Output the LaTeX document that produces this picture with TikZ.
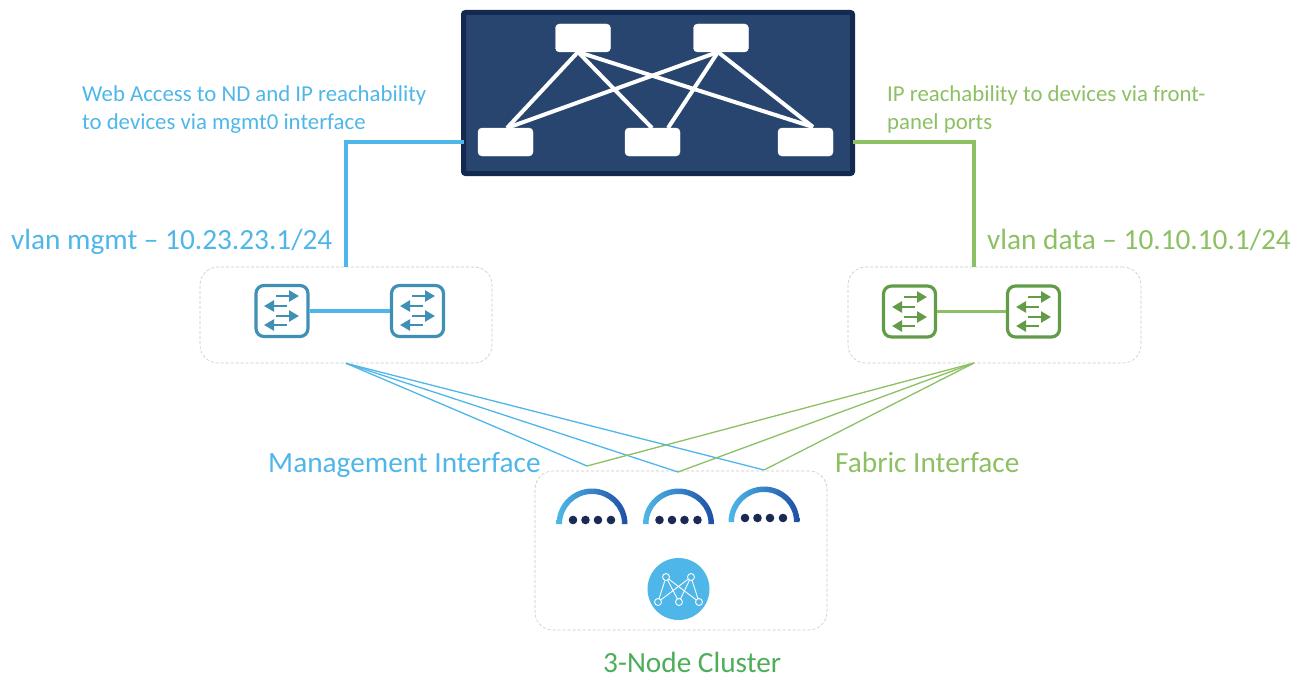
\documentclass[tikz,border=0pt]{standalone}
\usepackage{fontspec}
\setmainfont{Carlito}
\usetikzlibrary{arrows.meta,shapes.geometric}
\definecolor{mgmtblue}{HTML}{4FB6E9}
\definecolor{datagreen}{HTML}{8CC063}
\definecolor{swblue}{HTML}{4090B5}
\definecolor{swgreen}{HTML}{629C48}
\definecolor{fabricfill}{HTML}{28456F}
\definecolor{fabricedge}{HTML}{14294F}
\definecolor{arclight}{HTML}{4FB8E8}
\definecolor{arcdark}{HTML}{1E4FA6}
\definecolor{dotdark}{HTML}{1A2A55}
\definecolor{clustergreen}{HTML}{4DAE5A}
\tikzset{
  devbox/.style={draw=white,fill=white,rounded corners=4pt,minimum width=55pt,minimum height=28pt,inner sep=0pt},
  fabricline/.style={draw=white,line width=4pt},
  groupbox/.style={draw=black!22,densely dashed,line width=.6pt,rounded corners=18pt,inner sep=0pt},
  swbox/.style={draw=#1,line width=3.2pt,fill=white,rounded corners=8pt,minimum width=52pt,minimum height=51pt,inner sep=0pt},
  swarrow/.style={#1,line width=2.8pt,-{Triangle[length=10pt,width=11pt]}},
  lbl/.style={inner sep=0pt,anchor=base west},
  smalllbl/.style={lbl,font=\fontsize{22.8}{26}\selectfont},
  biglbl/.style={lbl,font=\fontsize{29.3}{33}\selectfont},
  meshdot/.style={circle,draw=white,line width=.9pt,fill=mgmtblue,minimum size=7pt,inner sep=0pt},
  dotnode/.style={circle,fill=dotdark,minimum size=8.6pt,inner sep=0pt}
}
\newcommand{\swarrows}[2]{%
  \begin{scope}[shift={(#1)}]
    \draw[swarrow=#2] (-6,-15) -- (17,-15);
    \draw[swarrow=#2] (5,-5) -- (-18,-5);
    \draw[swarrow=#2] (-6,5) -- (17,5);
    \draw[swarrow=#2] (5,14) -- (-18,14);
  \end{scope}}
\newcommand{\ndarc}[1]{%
  \begin{scope}[shift={(#1)}]
    \shade[left color=arclight,right color=arcdark] (-35.5,0) arc[start angle=180,end angle=360,radius=35.5] -- (30,0) arc[start angle=360,end angle=180,radius=30] -- cycle;
    \foreach \dx in {-19,-6.5,6,19}
      \node[dotnode] at (\dx,-4) {};
  \end{scope}}

\begin{document}
\begin{tikzpicture}[x=1pt,y=-1pt]
\useasboundingbox (0,0) rectangle (1302,677);

% uplinks
\draw (658,93)    node (fabric) [draw=fabricedge,fill=fabricfill,line width=5pt,rounded corners=2pt,minimum width=389pt,minimum height=161pt,inner sep=0pt,outer sep=0pt] {};
\draw (583,38)    node (spinea) [devbox] {};
\draw (721,38)    node (spineb) [devbox] {};
\draw (505.5,142) node (leafa)  [devbox] {};
\draw (652.5,142) node (leafb)  [devbox] {};
\draw (805.5,142) node (leafc)  [devbox] {};

\coordinate (spineaout) at (578,52);
\coordinate (spinebout) at (718,52);
\coordinate (leafain) at (507,128);
\coordinate (leafbina) at (652,128);
\coordinate (leafbinb) at (668,128);
\coordinate (leafcin) at (813,127);
\draw[fabricline] (spineaout) -- (leafain);
\draw[fabricline] (spineaout) -- (leafbina);
\draw[fabricline] (spineaout) -- (leafcin);
\draw[fabricline] (spinebout) -- (leafain);
\draw[fabricline] (spinebout) -- (leafbinb);
\draw[fabricline] (spinebout) -- (leafcin);

% switch groups
\draw (346,315)   node (mgmtgroup) [groupbox,minimum width=292pt,minimum height=96pt] {};
\draw (994.5,315) node (datagroup) [groupbox,minimum width=293pt,minimum height=96pt] {};
\coordinate (dataup) at (974,267);
\coordinate (datadown) at (974,363);

\draw[mgmtblue,line width=3.3pt] (fabric.west |- leafa) -| (mgmtgroup.north);
\draw[datagreen,line width=3.3pt] (fabric.east |- leafa) -| (dataup);

\draw (282,311)   node (mgmtswa) [swbox=swblue] {};
\draw (417.5,311) node (mgmtswb) [swbox=swblue] {};
\draw (909.5,311.5) node (dataswa) [swbox=swgreen] {};
\draw (1033.5,311.5) node (dataswb) [swbox=swgreen] {};
\draw[mgmtblue,line width=3.3pt] (mgmtswa) -- (mgmtswb);
\draw[datagreen,line width=3.3pt] (dataswa) -- (dataswb);
\swarrows{282,311}{swblue}
\swarrows{418,311}{swblue}
\swarrows{910,312}{swgreen}
\swarrows{1034,312}{swgreen}

% cluster
\draw (681,550.5) node (cluster) [groupbox,minimum width=292pt,minimum height=159pt] {};
\ndarc{592,524}
\ndarc{678.5,524}
\ndarc{764,522}
\coordinate (nodeain) at (587,466);
\coordinate (nodebin) at (678,472);
\coordinate (nodecin) at (764,470);

\draw[mgmtblue,line width=1.3pt] (mgmtgroup.south) -- (nodeain);
\draw[mgmtblue,line width=1.3pt] (mgmtgroup.south) -- (nodebin);
\draw[mgmtblue,line width=1.3pt] (mgmtgroup.south) -- (nodecin);
\draw[datagreen,line width=1.3pt] (datadown) -- (nodeain);
\draw[datagreen,line width=1.3pt] (datadown) -- (nodebin);
\draw[datagreen,line width=1.3pt] (datadown) -- (nodecin);

\draw (678.5,589) node (ndlogo) [circle,fill=mgmtblue,minimum size=62pt,inner sep=0pt] {};
\foreach \fx in {666,691}
  \foreach \tx in {658,679,699}
    \draw[white,line width=.9pt] (\fx,577) -- (\tx,602);
\draw (666,577)   node (logoa) [meshdot] {};
\draw (691,577)   node (logob) [meshdot] {};
\draw (658,602)   node (logoc) [meshdot] {};
\draw (679,602)   node (logod) [meshdot] {};
\draw (699,602)   node (logoe) [meshdot] {};

% labels
\draw (82,102)   node (webtext)  [smalllbl,text=mgmtblue] {Web Access to ND and IP reachability};
\draw (82,129)   node (webtextb) [smalllbl,text=mgmtblue] {to devices via mgmt0 interface};
\draw (887,102)  node (iptext)   [smalllbl,text=datagreen] {IP reachability to devices via front-};
\draw (887,129)  node (iptextb)  [smalllbl,text=datagreen] {panel ports};
\draw (11,249)   node (vlanmgmt) [biglbl,text=mgmtblue] {vlan mgmt – 10.23.23.1/24};
\draw (987,249)  node (vlandata) [biglbl,text=datagreen] {vlan data – 10.10.10.1/24};
\draw (268,472)  node (mgmtint)  [biglbl,text=mgmtblue] {Management Interface};
\draw (835,472)  node (fabint)   [biglbl,text=datagreen] {Fabric Interface};
\draw (603,672)  node (clusterlbl) [biglbl,text=clustergreen] {3-Node Cluster};
\end{tikzpicture}
\end{document}
